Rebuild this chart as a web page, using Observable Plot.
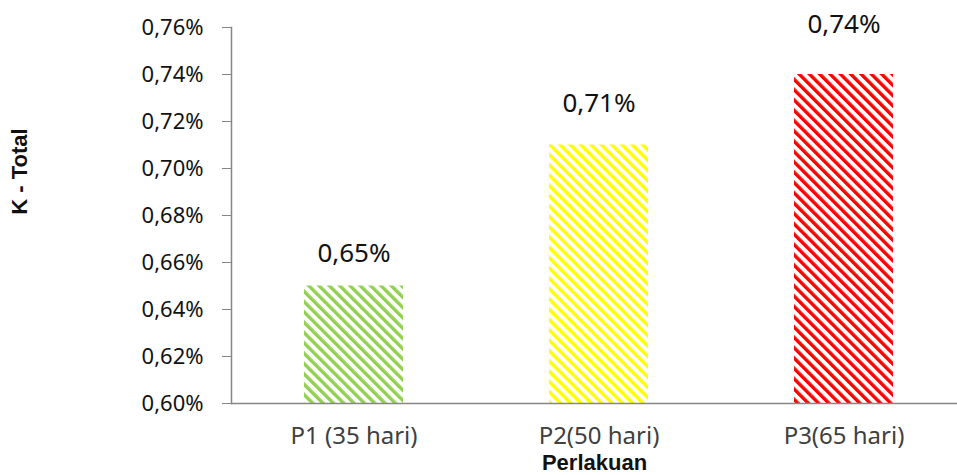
<!DOCTYPE html>
<html><head><meta charset="utf-8">
<script src="https://cdn.jsdelivr.net/npm/d3@7"></script>
<script src="https://cdn.jsdelivr.net/npm/@observablehq/plot@0.6"></script>
<style>html,body{margin:0;padding:0;background:#fff;overflow:hidden}</style>
</head><body><div id="chart"></div>
<script>
const categories = ["P1 (35 hari)", "P2(50 hari)", "P3(65 hari)"];
const values = [0.65, 0.71, 0.74];
const colors = ["#92D050", "#FFFF00", "#FF0000"];
const yTicks = [0.60, 0.62, 0.64, 0.66, 0.68, 0.70, 0.72, 0.74, 0.76];
const patternIds = ["hatch-green", "hatch-yellow", "hatch-red"];
const xTitle = "Perlakuan";
const yTitle = "K - Total";

const data = categories.map((c, i) => ({cat: c, value: values[i], fill: `url(#${patternIds[i]})`}));
const fmt = d => d.toFixed(2).replace(".", ",") + "%";

// label lift above each bar (style only, as placed in the reference)
const labelLift = [-32, -41, -50];

const chart = Plot.plot({
  width: 957, height: 475,
  marginLeft: 231, marginRight: 0, marginTop: 27, marginBottom: 72,
  style: {fontFamily: "'Noto Sans', sans-serif", background: "#fff"},
  x: {domain: categories, range: [231, 966], paddingInner: 0.596, paddingOuter: 0.298, label: null},
  y: {domain: [0.6, 0.76], label: null},
  color: {type: "identity"},
  marks: [
    Plot.barY(data, {x: "cat", y1: 0.6, y2: "value", fill: "fill"}),
    Plot.ruleY([0.6], {stroke: "#868686", strokeWidth: 1.5}),
    Plot.frame({anchor: "left", stroke: "#868686", strokeWidth: 1.5}),
    Plot.axisY(yTicks, {tickSize: 9, tickPadding: 19, tickFormat: fmt, fontSize: 22, stroke: "#868686", fill: "#111", label: null}),
    Plot.axisX({tickSize: 0, tickPadding: 23, fontSize: 24, fill: "#404040", label: null}),
    ...data.map((d, i) => Plot.text([d], {x: "cat", y: "value", text: e => fmt(e.value), dy: labelLift[i], fontSize: 26, fill: "#111"})),
    Plot.text([xTitle], {text: d => d, frameAnchor: "bottom", lineAnchor: "top", dy: 51, fontSize: 22, fontWeight: "bold", fontFamily: "'Liberation Sans', Arial, sans-serif", fill: "#111"}),
    Plot.text([yTitle], {text: d => d, frameAnchor: "top-left", textAnchor: "middle", lineAnchor: "middle", rotate: -90, dx: -212, dy: 144, fontSize: 22, fontWeight: "bold", fontFamily: "'Liberation Sans', Arial, sans-serif", fill: "#111"})
  ]
});

const defs = d3.select(chart).insert("defs", ":first-child");
patternIds.forEach((id, i) => {
  const p = defs.append("pattern").attr("id", id)
    .attr("patternUnits", "userSpaceOnUse")
    .attr("width", 7.3).attr("height", 7.3)
    .attr("patternTransform", "rotate(-45)");
  p.append("rect").attr("width", 7.3).attr("height", 7.3).attr("fill", "#fff");
  p.append("rect").attr("width", 3.4).attr("height", 7.3).attr("fill", colors[i]);
});

document.getElementById("chart").appendChild(chart);
</script>
</body></html>
